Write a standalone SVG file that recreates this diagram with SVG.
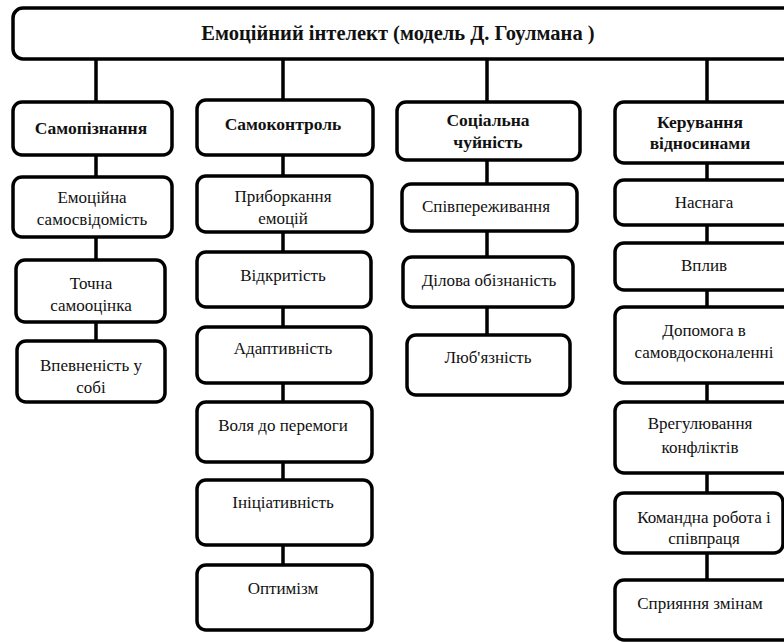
<svg xmlns="http://www.w3.org/2000/svg" width="784" height="642" viewBox="0 0 784 642">
<style>
.box{fill:#fff;stroke:#000;stroke-width:3.5}
.ln{stroke:#000;stroke-width:3.5;fill:none}
text{font-size:17px;fill:#111;text-anchor:middle}
.b{font-weight:bold;font-size:17.5px}
.t{font-weight:bold;font-size:20.5px}
</style>
<rect width="784" height="642" fill="#fff"/>
<g id="connectors">
<path class="ln" d="M96 59V102M283 59V100M487 59V102M707 59V102"/>
<path class="ln" d="M96 155V177M96 237V260M96 322V341"/>
<path class="ln" d="M283 155V176M283 232V252M283 307V327M283 383V402M283 462V480M283 545V565"/>
<path class="ln" d="M487 160V184M487 231V257M487 307V335"/>
<path class="ln" d="M707 163V180M707 225V243M707 290V307M707 383V402M707 473V493M707 553V580"/>
</g>
<g font-family="'Liberation Serif', 'Times New Roman', 'DejaVu Serif', serif">
<g id="root"><rect class="box" x="13" y="8" width="790" height="51" rx="10"/><text class="t" x="398" y="40">Емоційний інтелект (модель Д. Гоулмана )</text></g>
<g id="n1"><rect class="box" x="13" y="102" width="159" height="53" rx="9"/><text class="b" x="91" y="134">Самопізнання</text></g>
<g id="n1a"><rect class="box" x="13" y="177" width="159" height="60" rx="9"/><text x="92" y="203">Емоційна</text><text x="92" y="225">самосвідомість</text></g>
<g id="n1b"><rect class="box" x="16" y="260" width="149" height="62" rx="9"/><text x="91" y="289">Точна</text><text x="91" y="311">самооцінка</text></g>
<g id="n1c"><rect class="box" x="17" y="341" width="148" height="61" rx="9"/><text x="91" y="371">Впевненість у</text><text x="91" y="393">собі</text></g>
<g id="n2"><rect class="box" x="197" y="100" width="176" height="55" rx="9"/><text class="b" x="283" y="130">Самоконтроль</text></g>
<g id="n2a"><rect class="box" x="197" y="176" width="175" height="56" rx="9"/><text x="283" y="202">Приборкання</text><text x="283" y="224">емоцій</text></g>
<g id="n2b"><rect class="box" x="197" y="252" width="174" height="55" rx="9"/><text x="283" y="281">Відкритість</text></g>
<g id="n2c"><rect class="box" x="197" y="327" width="174" height="56" rx="9"/><text x="283" y="354">Адаптивність</text></g>
<g id="n2d"><rect class="box" x="197" y="402" width="175" height="60" rx="9"/><text x="283" y="431">Воля до перемоги</text></g>
<g id="n2e"><rect class="box" x="197" y="480" width="175" height="65" rx="9"/><text x="283" y="508">Ініціативність</text></g>
<g id="n2f"><rect class="box" x="197" y="565" width="175" height="65" rx="9"/><text x="283" y="594">Оптимізм</text></g>
<g id="n3"><rect class="box" x="397" y="102" width="183" height="58" rx="9"/><text class="b" x="488" y="126">Соціальна</text><text class="b" x="488" y="148">чуйність</text></g>
<g id="n3a"><rect class="box" x="402" y="184" width="175" height="47" rx="9"/><text x="486" y="212">Співпереживання</text></g>
<g id="n3b"><rect class="box" x="403" y="257" width="170" height="50" rx="9"/><text x="489" y="286">Ділова обізнаність</text></g>
<g id="n3c"><rect class="box" x="407" y="335" width="163" height="60" rx="9"/><text x="488" y="363">Люб'язність</text></g>
<g id="n4"><rect class="box" x="615" y="102" width="180" height="61" rx="9"/><text class="b" x="700" y="128">Керування</text><text class="b" x="700" y="149">відносинами</text></g>
<g id="n4a"><rect class="box" x="615" y="180" width="180" height="45" rx="9"/><text x="704" y="208">Наснага</text></g>
<g id="n4b"><rect class="box" x="615" y="243" width="180" height="47" rx="9"/><text x="704" y="271">Вплив</text></g>
<g id="n4c"><rect class="box" x="615" y="307" width="180" height="76" rx="9"/><text x="704" y="336">Допомога в</text><text x="704" y="358">самовдосконаленні</text></g>
<g id="n4d"><rect class="box" x="615" y="402" width="180" height="71" rx="9"/><text x="700" y="429">Врегулювання</text><text x="700" y="453">конфліктів</text></g>
<g id="n4e"><rect class="box" x="615" y="493" width="168" height="60" rx="9"/><text x="704" y="523">Командна робота і</text><text x="704" y="544">співпраця</text></g>
<g id="n4f"><rect class="box" x="615" y="580" width="180" height="60" rx="9"/><text x="700" y="609">Сприяння змінам</text></g>
</g>
</svg>
